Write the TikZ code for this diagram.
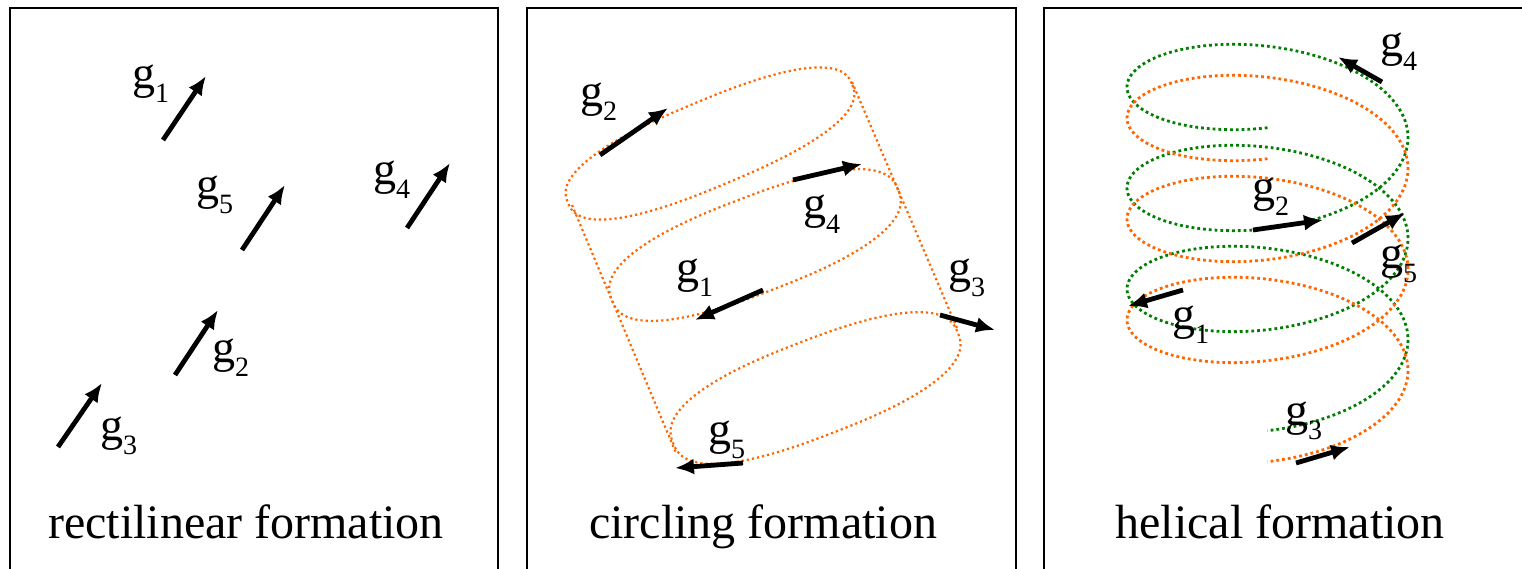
\documentclass[tikz,border=0pt]{standalone}
\usepackage{fontspec}
\setmainfont{Liberation Serif}
\usetikzlibrary{arrows.meta}
\definecolor{orng}{RGB}{255,102,0}
\definecolor{grn}{RGB}{0,128,0}
\newcommand{\glab}[1]{{\fontsize{46}{46}\selectfont g}\raisebox{-14pt}{\fontsize{28}{28}\selectfont #1}}
\newcommand{\supell}[5]{%
  \draw[odot] plot[domain=0.5:360.5, samples=121, variable=\t]
  ({#1 + #3*cos(\t)*pow(abs(cos(\t)),-0.2)*cos(#5) + #4*sin(\t)*pow(abs(sin(\t)),-0.2)*sin(#5)},
   {#2 - #3*cos(\t)*pow(abs(cos(\t)),-0.2)*sin(#5) + #4*sin(\t)*pow(abs(sin(\t)),-0.2)*cos(#5)}) -- cycle;}
\tikzset{
  panel/.style={line width=2pt},
  vec/.style={line width=4.8pt, -{Latex[length=19pt,width=16pt]}},
  lab/.style={anchor=base west, inner sep=0pt},
  captext/.style={anchor=base, inner sep=0pt, font=\fontsize{48}{50}\selectfont},
  odot/.style={color=orng, line width=2.2pt, dash pattern=on 2.2pt off 3pt},
  hgreen/.style={color=grn, line width=2.8pt, dash pattern=on 2.8pt off 3pt},
  horange/.style={color=orng, line width=2.8pt, dash pattern=on 2.8pt off 3pt}
}
\begin{document}
\begin{tikzpicture}[x=1pt,y=-1pt]
\useasboundingbox (0,0) rectangle (1522,569);
% panels
\draw[panel] (10,569) -- (10,8) -- (498,8) -- (498,569);
\draw[panel] (527,569) -- (527,8) -- (1016,8) -- (1016,569);
\draw[panel] (1044,569) -- (1044,8) -- (1522,8);

% ---------- panel 1: rectilinear ----------
\coordinate (r1s) at (163,140); \coordinate (r1e) at (206,76);
\coordinate (r5s) at (242,250); \coordinate (r5e) at (285,185);
\coordinate (r4s) at (407,228); \coordinate (r4e) at (450,163);
\coordinate (r2s) at (175,375); \coordinate (r2e) at (218,310);
\coordinate (r3s) at (58,447);  \coordinate (r3e) at (102,383);
\draw[vec] (r1s) -- (r1e);
\draw[vec] (r5s) -- (r5e);
\draw[vec] (r4s) -- (r4e);
\draw[vec] (r2s) -- (r2e);
\draw[vec] (r3s) -- (r3e);
\node[lab] (rl1) at (132,89) {\glab{1}};
\node[lab] (rl5) at (196,200) {\glab{5}};
\node[lab] (rl4) at (373,185) {\glab{4}};
\node[lab] (rl2) at (212,362) {\glab{2}};
\node[lab] (rl3) at (100,440) {\glab{3}};
\node[captext] (cap1) at (246,538) {rectilinear formation};

% ---------- panel 2: circling ----------
\supell{710}{143.5}{154}{43}{22.7}
\supell{755}{245}{153.5}{48}{21}
\supell{815.5}{388}{152.7}{48}{21.1}
\coordinate (cl1) at (572,205); \coordinate (cl2) at (676,453);
\coordinate (cr1) at (852,82);  \coordinate (cr2) at (957,328);
\draw[odot] (cl1) -- (cl2);
\draw[odot] (cr1) -- (cr2);
\coordinate (c2s) at (600,155); \coordinate (c2e) at (668,108);
\coordinate (c4s) at (793,180); \coordinate (c4e) at (862,164);
\coordinate (c1s) at (763,290); \coordinate (c1e) at (695,320);
\coordinate (c3s) at (940,315); \coordinate (c3e) at (995,330);
\coordinate (c5s) at (743,463); \coordinate (c5e) at (675,468);
\draw[vec] (c2s) -- (c2e);
\draw[vec] (c4s) -- (c4e);
\draw[vec] (c1s) -- (c1e);
\draw[vec] (c3s) -- (c3e);
\draw[vec] (c5s) -- (c5e);
\node[lab] (cg2) at (580,107) {\glab{2}};
\node[lab] (cg4) at (803,219) {\glab{4}};
\node[lab] (cg1) at (676,282) {\glab{1}};
\node[lab] (cg3) at (948,282) {\glab{3}};
\node[lab] (cg5) at (708,444) {\glab{5}};
\node[captext] (cap2) at (763,538) {circling formation};

% ---------- panel 3: helical ----------
\draw[hgreen] plot[domain=90:1170, samples=361, variable=\t]
  ({1267.5+140.5*cos(\t)}, {36.5+66*sin(\t)+0.2805*\t});
\draw[horange] plot[domain=90:1170, samples=361, variable=\t]
  ({1267.5+140.5*cos(\t)}, {67.5+66*sin(\t)+0.2805*\t});
\coordinate (h4s) at (1382,82);  \coordinate (h4e) at (1338,57);
\coordinate (h2s) at (1253,230); \coordinate (h2e) at (1323,220);
\coordinate (h5s) at (1352,243); \coordinate (h5e) at (1405,213);
\coordinate (h1s) at (1183,290); \coordinate (h1e) at (1128,306);
\coordinate (h3s) at (1296,463); \coordinate (h3e) at (1350,447);
\draw[vec] (h4s) -- (h4e);
\draw[vec] (h2s) -- (h2e);
\draw[vec] (h5s) -- (h5e);
\draw[vec] (h1s) -- (h1e);
\draw[vec] (h3s) -- (h3e);
\node[lab] (hg4) at (1380,57) {\glab{4}};
\node[lab] (hg2) at (1252,202) {\glab{2}};
\node[lab] (hg5) at (1380,269) {\glab{5}};
\node[lab] (hg1) at (1172,329) {\glab{1}};
\node[lab] (hg3) at (1285,425) {\glab{3}};
\node[captext] (cap3) at (1280,538) {helical formation};
\end{tikzpicture}
\end{document}
